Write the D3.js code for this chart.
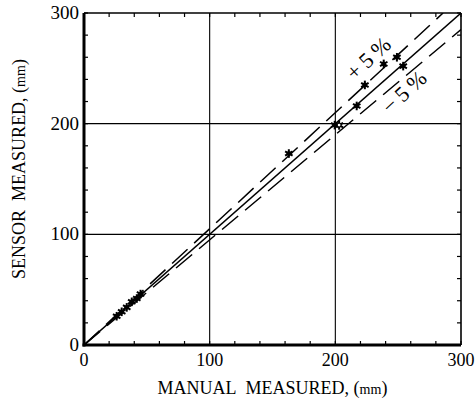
<!DOCTYPE html>
<html>
<head>
<meta charset="utf-8">
<script src="https://cdn.jsdelivr.net/npm/d3@7"></script>
<style>
  html, body { margin: 0; padding: 0; background: #fff; }
  svg { display: block; }
  text { font-family: "Liberation Serif", "DejaVu Serif", serif; fill: #000; }
</style>
</head>
<body>
<svg id="chart" width="475" height="405"></svg>
<script>
// Manual vs sensor measurements (mm)
const manual = [26, 30, 34, 38, 42, 45, 163, 199.5, 217, 223.5, 238.5, 249, 254];
const sensor = [26, 30, 34, 39, 42, 46, 173, 198.7, 216, 235, 254, 260, 252];
// one point drawn open (white centre)
const hollowManual = [203];
const hollowSensor = [198.7];

const axisMax = 300;
const gridValues = [100, 200];
const tickLabels = [0, 100, 200, 300];
const minorTicks = d3.range(0, 301, 20);
const bands = [ { factor: 1.05, label: "+5%" }, { factor: 0.95, label: "\u22125%" } ];

const svg = d3.select("#chart");
const m = { left: 84, right: 14, top: 13, bottom: 60 };
const W = 475, H = 405;
const x = d3.scaleLinear().domain([0, axisMax]).range([m.left, W - m.right]);
const y = d3.scaleLinear().domain([0, axisMax]).range([H - m.bottom, m.top]);

svg.append("clipPath").attr("id", "plot").append("rect")
  .attr("x", x(0)).attr("y", y(axisMax)).attr("width", x(axisMax) - x(0)).attr("height", y(0) - y(axisMax));

// grid
svg.append("g").selectAll("line").data(gridValues).join("line")
  .attr("x1", d => x(d)).attr("x2", d => x(d)).attr("y1", y(0)).attr("y2", y(axisMax))
  .attr("stroke", "#000").attr("stroke-width", 1.1);
svg.append("g").selectAll("line").data(gridValues).join("line")
  .attr("y1", d => y(d)).attr("y2", d => y(d)).attr("x1", x(0)).attr("x2", x(axisMax))
  .attr("stroke", "#000").attr("stroke-width", 1.1);

// inward minor ticks on all four sides
const tickLen = 4;
const tk = svg.append("g").attr("stroke", "#000").attr("stroke-width", 1.2);
minorTicks.forEach(v => {
  tk.append("line").attr("x1", x(v)).attr("x2", x(v)).attr("y1", y(0)).attr("y2", y(0) - tickLen);
  tk.append("line").attr("x1", x(v)).attr("x2", x(v)).attr("y1", y(axisMax)).attr("y2", y(axisMax) + tickLen);
  tk.append("line").attr("y1", y(v)).attr("y2", y(v)).attr("x1", x(0)).attr("x2", x(0) + tickLen);
  tk.append("line").attr("y1", y(v)).attr("y2", y(v)).attr("x1", x(axisMax)).attr("x2", x(axisMax) - tickLen);
});

// frame: heavy left/bottom, light top/right
svg.append("line").attr("x1", x(0)).attr("x2", x(axisMax)).attr("y1", y(axisMax)).attr("y2", y(axisMax))
  .attr("stroke", "#000").attr("stroke-width", 1.6);
svg.append("line").attr("x1", x(axisMax)).attr("x2", x(axisMax)).attr("y1", y(0)).attr("y2", y(axisMax))
  .attr("stroke", "#000").attr("stroke-width", 1.6);
svg.append("line").attr("x1", x(0) - 1.5).attr("x2", x(axisMax)).attr("y1", y(0)).attr("y2", y(0))
  .attr("stroke", "#000").attr("stroke-width", 3);
svg.append("line").attr("x1", x(0)).attr("x2", x(0)).attr("y1", y(0) + 1.5).attr("y2", y(axisMax))
  .attr("stroke", "#000").attr("stroke-width", 3);

// y = x reference and +/-5 % bands
const lines = svg.append("g").attr("clip-path", "url(#plot)");
lines.append("line").attr("x1", x(0)).attr("y1", y(0)).attr("x2", x(axisMax)).attr("y2", y(axisMax))
  .attr("stroke", "#000").attr("stroke-width", 1.5);
bands.forEach(b => {
  const xe = Math.min(axisMax, axisMax / b.factor);
  lines.append("line").attr("x1", x(0)).attr("y1", y(0)).attr("x2", x(xe)).attr("y2", y(xe * b.factor))
    .attr("stroke", "#000").attr("stroke-width", 1.5).attr("stroke-dasharray", "21,9");
});

// band labels, running along the dashed lines
const ang = -Math.atan2(y(0) - y(105), x(100) - x(0)) * 180 / Math.PI;
function bandLabel(px, py, txt) {
  svg.append("text").attr("transform", `translate(${px},${py}) rotate(${ang})`)
    .attr("text-anchor", "middle").attr("dominant-baseline", "middle")
    .attr("font-size", 22).attr("letter-spacing", 5).text(txt);
}
bandLabel(x(229), y(259), bands[0].label);
bandLabel(x(257.5), y(228.5), bands[1].label);

// asterisk markers
function star(g, cx, cy, r, open) {
  const s = g.append("g").attr("transform", `translate(${cx},${cy})`);
  for (let k = 0; k < 3; k++) {
    const a = Math.PI / 2 + k * Math.PI / 3;
    s.append("line").attr("x1", -r * Math.cos(a)).attr("y1", -r * Math.sin(a))
      .attr("x2", r * Math.cos(a)).attr("y2", r * Math.sin(a))
      .attr("stroke", "#000").attr("stroke-width", 2);
  }
  s.append("circle").attr("r", open ? 2 : 2.4).attr("fill", open ? "#fff" : "#000")
    .attr("stroke", "#000").attr("stroke-width", open ? 1.2 : 0);
}
const pts = svg.append("g");
manual.forEach((v, i) => star(pts, x(v), y(sensor[i]), 4.3, false));
hollowManual.forEach((v, i) => star(pts, x(v), y(hollowSensor[i]), 4.6, true));

// tick labels
svg.append("g").selectAll("text").data(tickLabels).join("text")
  .attr("x", d => x(d)).attr("y", y(0) + 21).attr("text-anchor", "middle")
  .attr("font-size", 18).text(d => d);
svg.append("g").selectAll("text").data(tickLabels).join("text")
  .attr("x", x(0) - 5).attr("y", d => y(d) + 6).attr("text-anchor", "end")
  .attr("font-size", 19).text(d => d);

// axis titles
const xt = svg.append("text").attr("x", (x(0) + x(axisMax)) / 2).attr("y", 394)
  .attr("text-anchor", "middle").attr("font-size", 18);
xt.append("tspan").text("MANUAL\u00a0\u00a0MEASURED, (");
xt.append("tspan").attr("font-size", 14).text("mm");
xt.append("tspan").text(")");

const yt = svg.append("text").attr("transform", `translate(25,${(y(0) + y(axisMax)) / 2 - 10}) rotate(-90)`)
  .attr("text-anchor", "middle").attr("font-size", 18);
yt.append("tspan").text("SENSOR\u00a0\u00a0MEASURED, (");
yt.append("tspan").attr("font-size", 14).text("mm");
yt.append("tspan").text(")");
</script>
</body>
</html>
